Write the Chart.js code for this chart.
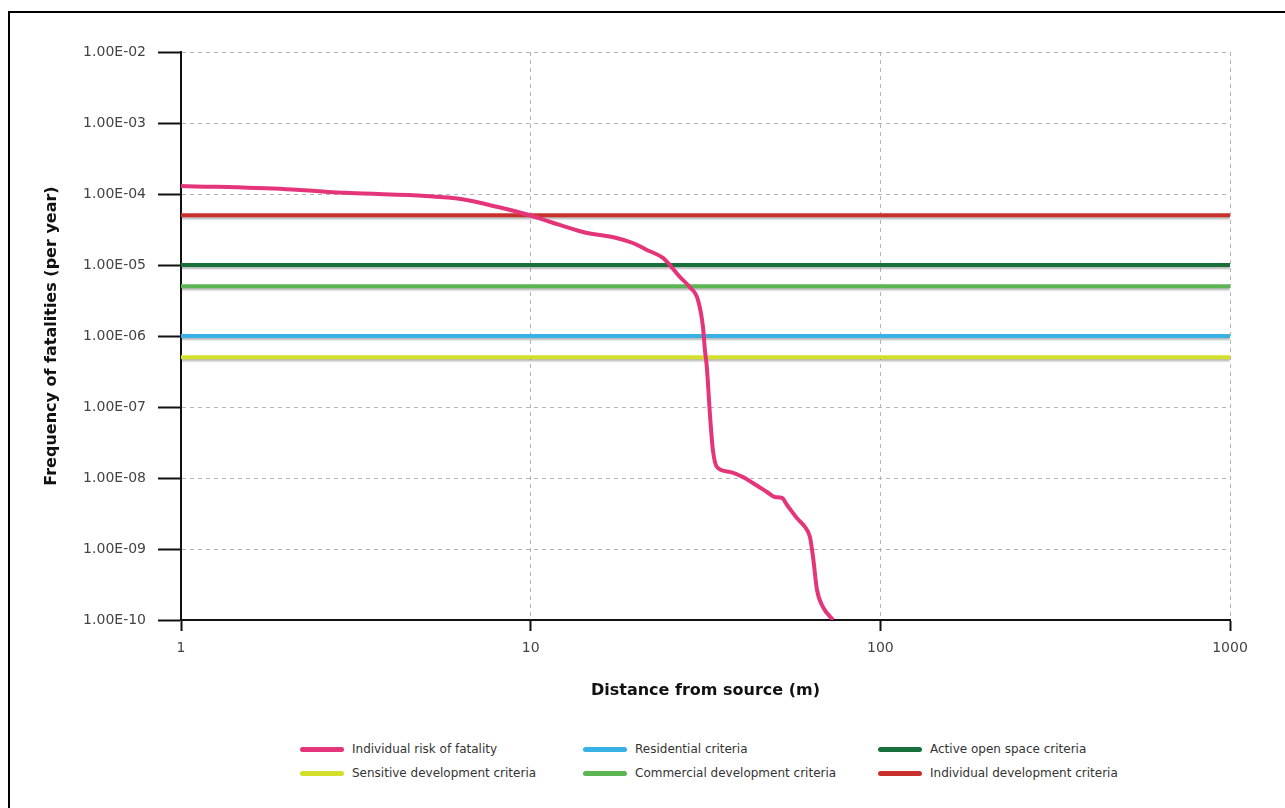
<!DOCTYPE html>
<html>
<head>
<meta charset="utf-8">
<script src="https://cdn.jsdelivr.net/npm/chart.js@4.4.1/dist/chart.umd.min.js"></script>
<style>
  html, body { margin: 0; padding: 0; background: #fff; width: 1285px; height: 808px; overflow: hidden; }
  body { position: relative; font-family: "DejaVu Sans", sans-serif; }
  .frame { position: absolute; left: 8px; top: 11px; width: 1300px; height: 820px; border-top: 2px solid #000; border-left: 2px solid #000; }
  #wrap { position: absolute; left: 0; top: 0; width: 1285px; height: 720px; }
  #legend { position: absolute; left: 300px; top: 737px; display: grid; grid-template-columns: 283px 295px auto; }
  .item { display: flex; align-items: center; height: 24px; font-size: 12px; color: #333; }
  .swatch { width: 44px; height: 5px; border-radius: 3px; margin-right: 8px; }
</style>
</head>
<body>
<div class="frame"></div>
<div id="wrap"><canvas id="riskChart" width="1285" height="720"></canvas></div>
<div id="legend"></div>
<script>
// Individual risk curve (distance in m, frequency per year)
const distance = [1, 2, 3.04, 5.02, 6.32, 8.01, 9.89, 11.4, 14.1, 17.6, 19.6, 21.5, 23.9, 24.7, 26.7, 28.5, 30.1,
  31.1, 31.5, 31.9, 32.6, 33.2, 34.1, 37.1, 40.5, 43.2, 47.4, 49.9, 52.3, 54.1, 57.7, 60.9, 62.9, 64.2, 65.9, 68.5, 73.2]
const riskFrequency = [1.30e-4, 1.17e-4, 1.03e-4, 9.4e-5, 8.5e-5, 6.6e-5, 5.06e-5, 4.03e-5, 2.92e-5, 2.40e-5, 2.04e-5,
  1.63e-5, 1.26e-5, 1.07e-5, 6.8e-6, 4.9e-6, 3.2e-6, 1.34e-6, 6.35e-7, 3.66e-7, 7.2e-8, 2.48e-8, 1.43e-8, 1.22e-8,
  1.03e-8, 8.5e-9, 6.35e-9, 5.4e-9, 5.23e-9, 4.17e-9, 2.73e-9, 2.04e-9, 1.48e-9, 7.7e-10, 2.65e-10, 1.53e-10, 1.0e-10]

// Criteria lines
const criteriaRange = [1, 1000]
const criteriaNames = ["Residential criteria", "Active open space criteria", "Sensitive development criteria",
  "Commercial development criteria", "Individual development criteria"]
const criteriaValues = [1e-6, 1e-5, 5e-7, 5e-6, 5e-5]
const criteriaColors = ["#38b1e6", "#17703a", "#d3df2b", "#5bb553", "#c9302c"]

// Ticks
const xTicks = [1, 10, 100, 1000]
const xTickLabels = ["1", "10", "100", "1000"]
const yTicks = [1e-10, 1e-9, 1e-8, 1e-7, 1e-6, 1e-5, 1e-4, 1e-3, 1e-2]
const yTickLabels = ["1.00E-10", "1.00E-09", "1.00E-08", "1.00E-07", "1.00E-06", "1.00E-05", "1.00E-04", "1.00E-03", "1.00E-02"]

const datasets = [
  {
    label: "Individual risk of fatality",
    data: distance.map((d, i) => ({ x: d, y: riskFrequency[i] })),
    borderColor: "#e5357a",
    borderWidth: 4,
    pointRadius: 0,
    cubicInterpolationMode: "monotone",
    shadow: false,
  },
]
criteriaNames.forEach((name, i) => {
  datasets.push({
    label: name,
    data: criteriaRange.map((x) => ({ x: x, y: criteriaValues[i] })),
    borderColor: criteriaColors[i],
    borderWidth: 4,
    pointRadius: 0,
    shadow: true,
  })
})

// soft grey shadow under the criteria lines
const lineShadow = {
  id: "lineShadow",
  beforeDatasetDraw(chart, args) {
    const ctx = chart.ctx
    ctx.save()
    if (args.meta._dataset.shadow) {
      ctx.shadowColor = "rgba(0,0,0,0.28)"
      ctx.shadowOffsetY = 2
      ctx.shadowBlur = 2
    }
  },
  afterDatasetDraw(chart) {
    chart.ctx.restore()
  },
}

const tickFont = { family: "DejaVu Sans", size: 14 }
const titleFont = { family: "DejaVu Sans", size: 16, weight: "bold" }

const chart = new Chart(document.getElementById("riskChart"), {
  type: "line",
  data: { datasets: datasets },
  plugins: [lineShadow],
  options: {
    responsive: false,
    animation: false,
    layout: { padding: { left: 38, top: 52, right: 55, bottom: 0 } },
    plugins: { legend: { display: false }, tooltip: { enabled: false } },
    scales: {
      x: {
        type: "logarithmic",
        min: 1,
        max: 1000,
        afterBuildTicks: (scale) => { scale.ticks = xTicks.map((v) => ({ value: v })) },
        afterFit: (scale) => { scale.height = 100 },
        ticks: {
          font: tickFont,
          color: "#444",
          padding: 9,
          maxRotation: 0,
          callback: (value, index) => xTickLabels[index],
        },
        grid: { color: "#b4b4b4", lineWidth: 1, tickColor: "#111", tickWidth: 2, tickLength: 11 },
        border: { color: "#111", width: 2, dash: [4, 4] },
        title: { display: true, text: "Distance from source (m)", font: titleFont, color: "#111", padding: { top: 4, bottom: 20 } },
      },
      y: {
        type: "logarithmic",
        min: 1e-10,
        max: 1e-2,
        afterBuildTicks: (scale) => { scale.ticks = yTicks.map((v) => ({ value: v })) },
        afterFit: (scale) => { scale.width = 143 },
        ticks: {
          font: tickFont,
          color: "#444",
          padding: 12,
          callback: (value, index) => yTickLabels[index],
        },
        grid: { color: "#b4b4b4", lineWidth: 1, tickColor: "#111", tickWidth: 2, tickLength: 23 },
        border: { color: "#111", width: 2, dash: [4, 4] },
        title: { display: true, text: "Frequency of fatalities (per year)", font: titleFont, color: "#111", padding: { top: 4, bottom: 4 } },
      },
    },
  },
})

// HTML legend laid out in three columns
const legend = document.getElementById("legend")
chart.data.datasets.forEach((ds) => {
  const item = document.createElement("div")
  item.className = "item"
  item.innerHTML = `<span class="swatch" style="background:${ds.borderColor}"></span><span>${ds.label}</span>`
  legend.appendChild(item)
})
</script>
</body>
</html>
